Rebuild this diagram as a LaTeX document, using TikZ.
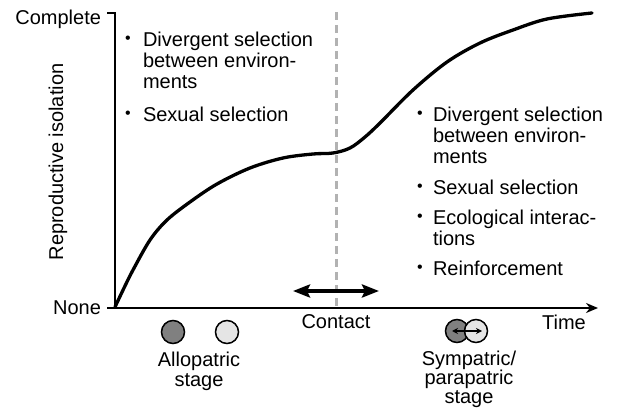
\documentclass[tikz,border=0pt]{standalone}
\usepackage{fontspec}
\setmainfont{Liberation Sans}
\usetikzlibrary{arrows.meta}
\definecolor{darkfill}{gray}{0.5}
\definecolor{lightfill}{gray}{0.9}
\definecolor{dashgray}{gray}{0.7}
\begin{document}
\begin{tikzpicture}[x=1pt,y=-1pt,
  every node/.style={inner sep=0pt, outer sep=0pt},
  txt/.style={font=\fontsize{20pt}{21pt}\selectfont, anchor=base west},
  lbl/.style={font=\fontsize{20pt}{21pt}\selectfont, anchor=base},
  lble/.style={font=\fontsize{20pt}{21pt}\selectfont, anchor=base east},
  blt/.style={font=\fontsize{16pt}{16pt}\selectfont, anchor=center},
  axisline/.style={line width=2pt, black},
  curveline/.style={line width=3.3pt, line join=round, line cap=round},
  contactarrow/.style={line width=3.5pt, {Stealth[length=17pt,width=13pt,inset=3pt]}-{Stealth[length=17pt,width=13pt,inset=3pt]}},
  smallarrow/.style={line width=1.6pt, {Stealth[length=6pt,width=6pt]}-{Stealth[length=6pt,width=6pt]}},
  popdark/.style={circle, draw=black, line width=1.5pt, fill=darkfill, minimum size=23pt},
  poplight/.style={circle, draw=black, line width=1.5pt, fill=lightfill, minimum size=23pt},
  dashline/.style={dashgray, line width=3pt, dash pattern=on 8pt off 5pt}
]
\useasboundingbox (0,0) rectangle (618,411);

% axes
\coordinate (ytop) at (115,13);
\coordinate (ytick) at (107,13);
\coordinate (origin) at (115,308);
\coordinate (xstart) at (107,308);
\coordinate (xend) at (598,308);
\coordinate (dtop) at (336,12);
\coordinate (dbot) at (336,307);

\draw[dashline] (dtop) -- (dbot);
\draw[axisline] (ytick) -- (ytop) -- (origin);
\draw[axisline, -{Stealth[length=12pt,width=10pt]}] (xstart) -- (xend);

\node[lble] (complete) at (101,25) {Complete};
\node[lble] (none) at (101,315) {None};
\node[font=\fontsize{20pt}{21pt}\selectfont, rotate=90, anchor=base] (ylab) at (63,162) {Reproductive isolation};

% curve
\draw[curveline] plot[smooth, tension=0.55] coordinates {
 (115,307) (124,288) (133,270) (150,240) (167,220) (190,202) (217,184)
 (250,168) (283,158) (313,154) (333,153) (350,148) (365,137) (380,123)
 (413,90) (447,62) (480,43) (513,30) (547,19) (592,13)};

% left block
\node[blt] (lb1) at (128,40) {\textbullet};
\node[txt] (l1a) at (143,47) {Divergent selection};
\node[txt] (l1b) at (143,68) {between environ-};
\node[txt] (l1c) at (143,89) {ments};
\node[blt] (lb2) at (128,115) {\textbullet};
\node[txt] (l2) at (143,122) {Sexual selection};

% right block
\node[blt] (rb1) at (420,115) {\textbullet};
\node[txt] (r1a) at (433,122) {Divergent selection};
\node[txt] (r1b) at (433,143) {between environ-};
\node[txt] (r1c) at (433,164) {ments};
\node[blt] (rb2) at (420,188) {\textbullet};
\node[txt] (r2) at (433,195) {Sexual selection};
\node[blt] (rb3) at (420,218) {\textbullet};
\node[txt] (r3a) at (433,225) {Ecological interac-};
\node[txt] (r3b) at (433,246) {tions};
\node[blt] (rb4) at (420,269) {\textbullet};
\node[txt] (r4) at (433,276) {Reinforcement};

% contact
\coordinate (cl) at (293,291);
\coordinate (cr) at (379,291);
\draw[contactarrow] (cl) -- (cr);
\node[lbl] (contact) at (336,328) {Contact};
\node[lbl] (time) at (564,330) {Time};

% allopatric
\node[popdark] (a1) at (173,332) {};
\node[poplight] (a2) at (227,332) {};
\node[lbl] (allo1) at (199,366) {Allopatric};
\node[lbl] (allo2) at (199,386) {stage};

% sympatric
\node[popdark] (s1) at (457,331) {};
\node[poplight] (s2) at (476,331) {};
\coordinate (sl) at (452,331);
\coordinate (sr) at (482,331);
\draw[smallarrow] (sl) -- (sr);
\node[lbl] (sym1) at (469,365) {Sympatric/};
\node[lbl] (sym2) at (469,384) {parapatric};
\node[lbl] (sym3) at (469,403) {stage};
\end{tikzpicture}
\end{document}
